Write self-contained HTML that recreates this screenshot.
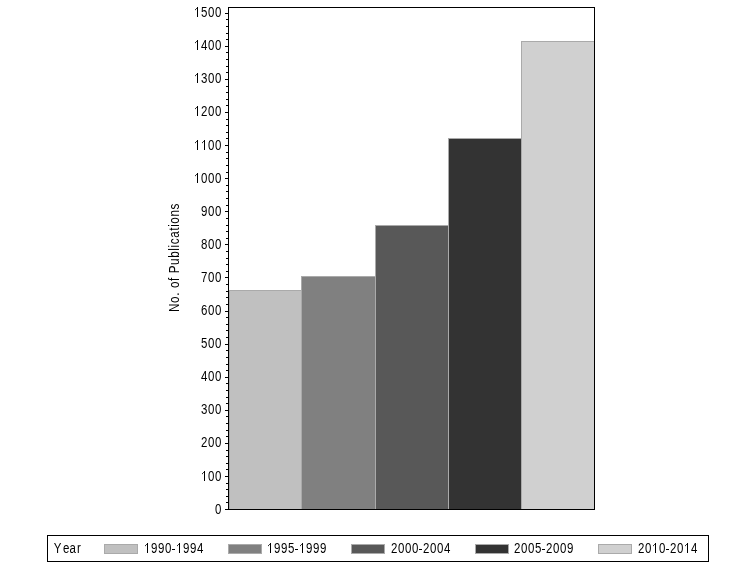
<!DOCTYPE html>
<html><head><meta charset="utf-8"><style>
html,body{margin:0;padding:0;background:#fff;width:756px;height:567px;overflow:hidden}
svg{display:block;will-change:transform}
.t{font-family:"Liberation Sans",sans-serif;font-size:14px;fill:#000}
</style></head><body>
<svg width="756" height="567" viewBox="0 0 756 567" shape-rendering="crispEdges"><rect x="0" y="0" width="756" height="567" fill="#fff"/><rect x="229" y="290" width="72" height="219" fill="#aaaaaa"/><rect x="230" y="291" width="71" height="218" fill="#c0c0c0"/><rect x="301" y="276" width="74" height="233" fill="#aaaaaa"/><rect x="302" y="277" width="73" height="232" fill="#808080"/><rect x="375" y="225" width="73" height="284" fill="#aaaaaa"/><rect x="376" y="226" width="72" height="283" fill="#585858"/><rect x="448" y="138" width="73" height="371" fill="#aaaaaa"/><rect x="449" y="139" width="72" height="370" fill="#333333"/><rect x="521" y="41" width="73" height="468" fill="#aaaaaa"/><rect x="522" y="42" width="72" height="467" fill="#d0d0d0"/><rect x="228" y="7" width="1" height="503" fill="#000"/><rect x="228" y="7" width="367" height="1" fill="#000"/><rect x="594" y="7" width="1" height="503" fill="#000"/><rect x="228" y="509" width="367" height="1" fill="#000"/><rect x="225" y="509" width="3" height="1" fill="#000"/><rect x="226" y="502" width="2" height="1" fill="#000"/><rect x="226" y="496" width="2" height="1" fill="#000"/><rect x="226" y="489" width="2" height="1" fill="#000"/><rect x="226" y="483" width="2" height="1" fill="#000"/><rect x="225" y="476" width="3" height="1" fill="#000"/><rect x="226" y="469" width="2" height="1" fill="#000"/><rect x="226" y="463" width="2" height="1" fill="#000"/><rect x="226" y="456" width="2" height="1" fill="#000"/><rect x="226" y="450" width="2" height="1" fill="#000"/><rect x="225" y="443" width="3" height="1" fill="#000"/><rect x="226" y="436" width="2" height="1" fill="#000"/><rect x="226" y="430" width="2" height="1" fill="#000"/><rect x="226" y="423" width="2" height="1" fill="#000"/><rect x="226" y="416" width="2" height="1" fill="#000"/><rect x="225" y="410" width="3" height="1" fill="#000"/><rect x="226" y="403" width="2" height="1" fill="#000"/><rect x="226" y="397" width="2" height="1" fill="#000"/><rect x="226" y="390" width="2" height="1" fill="#000"/><rect x="226" y="383" width="2" height="1" fill="#000"/><rect x="225" y="377" width="3" height="1" fill="#000"/><rect x="226" y="370" width="2" height="1" fill="#000"/><rect x="226" y="364" width="2" height="1" fill="#000"/><rect x="226" y="357" width="2" height="1" fill="#000"/><rect x="226" y="350" width="2" height="1" fill="#000"/><rect x="225" y="344" width="3" height="1" fill="#000"/><rect x="226" y="337" width="2" height="1" fill="#000"/><rect x="226" y="330" width="2" height="1" fill="#000"/><rect x="226" y="324" width="2" height="1" fill="#000"/><rect x="226" y="317" width="2" height="1" fill="#000"/><rect x="225" y="311" width="3" height="1" fill="#000"/><rect x="226" y="304" width="2" height="1" fill="#000"/><rect x="226" y="297" width="2" height="1" fill="#000"/><rect x="226" y="291" width="2" height="1" fill="#000"/><rect x="226" y="284" width="2" height="1" fill="#000"/><rect x="225" y="277" width="3" height="1" fill="#000"/><rect x="226" y="271" width="2" height="1" fill="#000"/><rect x="226" y="264" width="2" height="1" fill="#000"/><rect x="226" y="258" width="2" height="1" fill="#000"/><rect x="226" y="251" width="2" height="1" fill="#000"/><rect x="225" y="244" width="3" height="1" fill="#000"/><rect x="226" y="238" width="2" height="1" fill="#000"/><rect x="226" y="231" width="2" height="1" fill="#000"/><rect x="226" y="225" width="2" height="1" fill="#000"/><rect x="226" y="218" width="2" height="1" fill="#000"/><rect x="225" y="211" width="3" height="1" fill="#000"/><rect x="226" y="205" width="2" height="1" fill="#000"/><rect x="226" y="198" width="2" height="1" fill="#000"/><rect x="226" y="191" width="2" height="1" fill="#000"/><rect x="226" y="185" width="2" height="1" fill="#000"/><rect x="225" y="178" width="3" height="1" fill="#000"/><rect x="226" y="172" width="2" height="1" fill="#000"/><rect x="226" y="165" width="2" height="1" fill="#000"/><rect x="226" y="158" width="2" height="1" fill="#000"/><rect x="226" y="152" width="2" height="1" fill="#000"/><rect x="225" y="145" width="3" height="1" fill="#000"/><rect x="226" y="138" width="2" height="1" fill="#000"/><rect x="226" y="132" width="2" height="1" fill="#000"/><rect x="226" y="125" width="2" height="1" fill="#000"/><rect x="226" y="119" width="2" height="1" fill="#000"/><rect x="225" y="112" width="3" height="1" fill="#000"/><rect x="226" y="105" width="2" height="1" fill="#000"/><rect x="226" y="99" width="2" height="1" fill="#000"/><rect x="226" y="92" width="2" height="1" fill="#000"/><rect x="226" y="86" width="2" height="1" fill="#000"/><rect x="225" y="79" width="3" height="1" fill="#000"/><rect x="226" y="72" width="2" height="1" fill="#000"/><rect x="226" y="66" width="2" height="1" fill="#000"/><rect x="226" y="59" width="2" height="1" fill="#000"/><rect x="226" y="52" width="2" height="1" fill="#000"/><rect x="225" y="46" width="3" height="1" fill="#000"/><rect x="226" y="39" width="2" height="1" fill="#000"/><rect x="226" y="33" width="2" height="1" fill="#000"/><rect x="226" y="26" width="2" height="1" fill="#000"/><rect x="226" y="19" width="2" height="1" fill="#000"/><rect x="225" y="13" width="3" height="1" fill="#000"/><rect x="47" y="535" width="662" height="1" fill="#000"/><rect x="47" y="561" width="662" height="1" fill="#000"/><rect x="47" y="535" width="1" height="27" fill="#000"/><rect x="708" y="535" width="1" height="27" fill="#000"/><rect x="104" y="544" width="34" height="10" fill="#aaaaaa"/><rect x="105" y="545" width="32" height="8" fill="#c0c0c0"/><rect x="228" y="544" width="34" height="10" fill="#aaaaaa"/><rect x="229" y="545" width="32" height="8" fill="#808080"/><rect x="351" y="544" width="34" height="10" fill="#aaaaaa"/><rect x="352" y="545" width="32" height="8" fill="#585858"/><rect x="475" y="544" width="34" height="10" fill="#aaaaaa"/><rect x="476" y="545" width="32" height="8" fill="#333333"/><rect x="598" y="544" width="34" height="10" fill="#aaaaaa"/><rect x="599" y="545" width="32" height="8" fill="#d0d0d0"/><g><rect x="204" y="471" width="1" height="10" fill="#000"/><rect x="203" y="472" width="1" height="1" fill="#404040"/><rect x="202" y="473" width="1" height="1" fill="#303030"/><rect x="202" y="474" width="1" height="1" fill="#e4e4e4"/><rect x="197" y="173" width="1" height="10" fill="#000"/><rect x="196" y="174" width="1" height="1" fill="#404040"/><rect x="195" y="175" width="1" height="1" fill="#303030"/><rect x="195" y="176" width="1" height="1" fill="#e4e4e4"/><rect x="197" y="140" width="1" height="10" fill="#000"/><rect x="196" y="141" width="1" height="1" fill="#404040"/><rect x="195" y="142" width="1" height="1" fill="#303030"/><rect x="195" y="143" width="1" height="1" fill="#e4e4e4"/><rect x="204" y="140" width="1" height="10" fill="#000"/><rect x="203" y="141" width="1" height="1" fill="#404040"/><rect x="202" y="142" width="1" height="1" fill="#303030"/><rect x="202" y="143" width="1" height="1" fill="#e4e4e4"/><rect x="197" y="106" width="1" height="10" fill="#000"/><rect x="196" y="107" width="1" height="1" fill="#404040"/><rect x="195" y="108" width="1" height="1" fill="#303030"/><rect x="195" y="109" width="1" height="1" fill="#e4e4e4"/><rect x="197" y="73" width="1" height="10" fill="#000"/><rect x="196" y="74" width="1" height="1" fill="#404040"/><rect x="195" y="75" width="1" height="1" fill="#303030"/><rect x="195" y="76" width="1" height="1" fill="#e4e4e4"/><rect x="197" y="40" width="1" height="10" fill="#000"/><rect x="196" y="41" width="1" height="1" fill="#404040"/><rect x="195" y="42" width="1" height="1" fill="#303030"/><rect x="195" y="43" width="1" height="1" fill="#e4e4e4"/><rect x="197" y="7" width="1" height="10" fill="#000"/><rect x="196" y="8" width="1" height="1" fill="#404040"/><rect x="195" y="9" width="1" height="1" fill="#303030"/><rect x="195" y="10" width="1" height="1" fill="#e4e4e4"/><rect x="147" y="543" width="1" height="10" fill="#000"/><rect x="146" y="544" width="1" height="1" fill="#404040"/><rect x="145" y="545" width="1" height="1" fill="#303030"/><rect x="145" y="546" width="1" height="1" fill="#e4e4e4"/><rect x="172" y="549" width="3" height="1" fill="#000"/><rect x="179" y="543" width="1" height="10" fill="#000"/><rect x="178" y="544" width="1" height="1" fill="#404040"/><rect x="177" y="545" width="1" height="1" fill="#303030"/><rect x="177" y="546" width="1" height="1" fill="#e4e4e4"/><rect x="270" y="543" width="1" height="10" fill="#000"/><rect x="269" y="544" width="1" height="1" fill="#404040"/><rect x="268" y="545" width="1" height="1" fill="#303030"/><rect x="268" y="546" width="1" height="1" fill="#e4e4e4"/><rect x="295" y="549" width="3" height="1" fill="#000"/><rect x="302" y="543" width="1" height="10" fill="#000"/><rect x="301" y="544" width="1" height="1" fill="#404040"/><rect x="300" y="545" width="1" height="1" fill="#303030"/><rect x="300" y="546" width="1" height="1" fill="#e4e4e4"/><rect x="419" y="549" width="3" height="1" fill="#000"/><rect x="542" y="549" width="3" height="1" fill="#000"/><rect x="655" y="543" width="1" height="10" fill="#000"/><rect x="654" y="544" width="1" height="1" fill="#404040"/><rect x="653" y="545" width="1" height="1" fill="#303030"/><rect x="653" y="546" width="1" height="1" fill="#e4e4e4"/><rect x="666" y="549" width="3" height="1" fill="#000"/><rect x="687" y="543" width="1" height="10" fill="#000"/><rect x="686" y="544" width="1" height="1" fill="#404040"/><rect x="685" y="545" width="1" height="1" fill="#303030"/><rect x="685" y="546" width="1" height="1" fill="#e4e4e4"/></g><g shape-rendering="auto"><text transform="translate(215,514) scale(0.82,1)" class="t">0</text><text transform="translate(208,481) scale(0.82,1)" class="t">0</text><text transform="translate(215,481) scale(0.82,1)" class="t">0</text><text transform="translate(201,447) scale(0.82,1)" class="t">2</text><text transform="translate(208,447) scale(0.82,1)" class="t">0</text><text transform="translate(215,447) scale(0.82,1)" class="t">0</text><text transform="translate(201,414) scale(0.82,1)" class="t">3</text><text transform="translate(208,414) scale(0.82,1)" class="t">0</text><text transform="translate(215,414) scale(0.82,1)" class="t">0</text><text transform="translate(201,381) scale(0.82,1)" class="t">4</text><text transform="translate(208,381) scale(0.82,1)" class="t">0</text><text transform="translate(215,381) scale(0.82,1)" class="t">0</text><text transform="translate(201,348) scale(0.82,1)" class="t">5</text><text transform="translate(208,348) scale(0.82,1)" class="t">0</text><text transform="translate(215,348) scale(0.82,1)" class="t">0</text><text transform="translate(201,315) scale(0.82,1)" class="t">6</text><text transform="translate(208,315) scale(0.82,1)" class="t">0</text><text transform="translate(215,315) scale(0.82,1)" class="t">0</text><text transform="translate(201,282) scale(0.82,1)" class="t">7</text><text transform="translate(208,282) scale(0.82,1)" class="t">0</text><text transform="translate(215,282) scale(0.82,1)" class="t">0</text><text transform="translate(201,249) scale(0.82,1)" class="t">8</text><text transform="translate(208,249) scale(0.82,1)" class="t">0</text><text transform="translate(215,249) scale(0.82,1)" class="t">0</text><text transform="translate(201,216) scale(0.82,1)" class="t">9</text><text transform="translate(208,216) scale(0.82,1)" class="t">0</text><text transform="translate(215,216) scale(0.82,1)" class="t">0</text><text transform="translate(201,183) scale(0.82,1)" class="t">0</text><text transform="translate(208,183) scale(0.82,1)" class="t">0</text><text transform="translate(215,183) scale(0.82,1)" class="t">0</text><text transform="translate(208,150) scale(0.82,1)" class="t">0</text><text transform="translate(215,150) scale(0.82,1)" class="t">0</text><text transform="translate(201,116) scale(0.82,1)" class="t">2</text><text transform="translate(208,116) scale(0.82,1)" class="t">0</text><text transform="translate(215,116) scale(0.82,1)" class="t">0</text><text transform="translate(201,83) scale(0.82,1)" class="t">3</text><text transform="translate(208,83) scale(0.82,1)" class="t">0</text><text transform="translate(215,83) scale(0.82,1)" class="t">0</text><text transform="translate(201,50) scale(0.82,1)" class="t">4</text><text transform="translate(208,50) scale(0.82,1)" class="t">0</text><text transform="translate(215,50) scale(0.82,1)" class="t">0</text><text transform="translate(201,17) scale(0.82,1)" class="t">5</text><text transform="translate(208,17) scale(0.82,1)" class="t">0</text><text transform="translate(215,17) scale(0.82,1)" class="t">0</text><text transform="translate(179,312) rotate(-90) scale(0.84,1)" class="t" letter-spacing="0.7">No. of Publications</text><text transform="translate(53.7,553) scale(0.82,1)" class="t">Y</text><text transform="translate(63,553) scale(0.82,1)" class="t">e</text><text transform="translate(69.6,553) scale(0.82,1)" class="t">a</text><text transform="translate(77,553) scale(0.82,1)" class="t">r</text><text transform="translate(151,553) scale(0.82,1)" class="t">9</text><text transform="translate(158,553) scale(0.82,1)" class="t">9</text><text transform="translate(165,553) scale(0.82,1)" class="t">0</text><text transform="translate(183,553) scale(0.82,1)" class="t">9</text><text transform="translate(190,553) scale(0.82,1)" class="t">9</text><text transform="translate(197,553) scale(0.82,1)" class="t">4</text><text transform="translate(274,553) scale(0.82,1)" class="t">9</text><text transform="translate(281,553) scale(0.82,1)" class="t">9</text><text transform="translate(288,553) scale(0.82,1)" class="t">5</text><text transform="translate(306,553) scale(0.82,1)" class="t">9</text><text transform="translate(313,553) scale(0.82,1)" class="t">9</text><text transform="translate(320,553) scale(0.82,1)" class="t">9</text><text transform="translate(391,553) scale(0.82,1)" class="t">2</text><text transform="translate(398,553) scale(0.82,1)" class="t">0</text><text transform="translate(405,553) scale(0.82,1)" class="t">0</text><text transform="translate(412,553) scale(0.82,1)" class="t">0</text><text transform="translate(423,553) scale(0.82,1)" class="t">2</text><text transform="translate(430,553) scale(0.82,1)" class="t">0</text><text transform="translate(437,553) scale(0.82,1)" class="t">0</text><text transform="translate(444,553) scale(0.82,1)" class="t">4</text><text transform="translate(514,553) scale(0.82,1)" class="t">2</text><text transform="translate(521,553) scale(0.82,1)" class="t">0</text><text transform="translate(528,553) scale(0.82,1)" class="t">0</text><text transform="translate(535,553) scale(0.82,1)" class="t">5</text><text transform="translate(546,553) scale(0.82,1)" class="t">2</text><text transform="translate(553,553) scale(0.82,1)" class="t">0</text><text transform="translate(560,553) scale(0.82,1)" class="t">0</text><text transform="translate(567,553) scale(0.82,1)" class="t">9</text><text transform="translate(638,553) scale(0.82,1)" class="t">2</text><text transform="translate(645,553) scale(0.82,1)" class="t">0</text><text transform="translate(659,553) scale(0.82,1)" class="t">0</text><text transform="translate(670,553) scale(0.82,1)" class="t">2</text><text transform="translate(677,553) scale(0.82,1)" class="t">0</text><text transform="translate(691,553) scale(0.82,1)" class="t">4</text></g></svg>
</body></html>
